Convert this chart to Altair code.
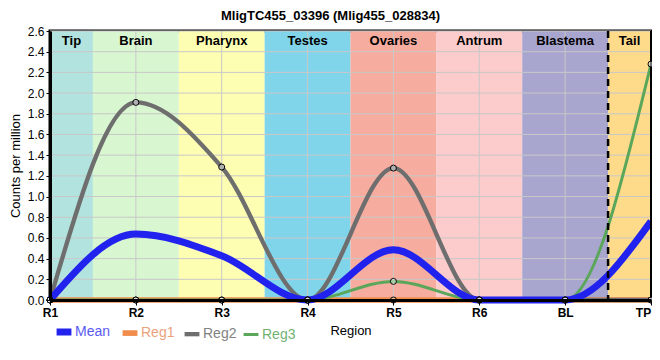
import json
import altair as alt
import pandas as pd

# ---------------- data ----------------
regions = ["R1", "R2", "R3", "R4", "R5", "R6", "BL", "TP"]
series_names = ["Mean", "Reg1", "Reg2", "Reg3"]
mean_vals = [0.0, 0.637, 0.428, 0.0, 0.485, 0.0, 0.0, 0.76]
reg1_vals = [0.0, 0.0, 0.0, 0.0, 0.0, 0.0, 0.0, 0.0]
reg2_vals = [0.0, 1.91, 1.285, 0.0, 1.275, 0.0, 0.0, 0.0]
reg3_vals = [0.0, 0.0, 0.0, 0.0, 0.18, 0.0, 0.0, 2.28]

series_colors = ["#2222ee", "#f08c4c", "#6e6e6e", "#5aa65a"]
label_colors = ["#5a5af2", "#eba27c", "#828282", "#72b272"]
stroke_widths = [7, 3, 3, 3]

band_names = ["Tip", "Brain", "Pharynx", "Testes", "Ovaries", "Antrum", "Blastema", "Tail"]
band_start = [0, 0.5, 1.5, 2.5, 3.5, 4.5, 5.5, 6.5]
band_end = [0.5, 1.5, 2.5, 3.5, 4.5, 5.5, 6.5, 7]
band_colors = ["#b3e3de", "#d8f6d0", "#fefeb3", "#80d5ea", "#f6ac9e", "#fccbcb", "#a8a6cf", "#fddb8b"]
divider_at = [6.5]

y_ticks = [0.0, 0.2, 0.4, 0.6, 0.8, 1.0, 1.2, 1.4, 1.6, 1.8, 2.0, 2.2, 2.4, 2.6]

# ---------------- tables ----------------
rows = []
for name, vals in [("Reg1", reg1_vals), ("Reg2", reg2_vals), ("Reg3", reg3_vals), ("Mean", mean_vals)]:
    for i, v in enumerate(vals):
        rows.append({"idx": i, "region": regions[i], "series": name, "value": v})
lines_df = pd.DataFrame(rows)
bands_df = pd.DataFrame({"band": band_names, "start": band_start, "end": band_end})
gx_df = pd.DataFrame({"idx": list(range(len(regions)))})
gy_df = pd.DataFrame({"v": y_ticks})
div_df = pd.DataFrame({"x": divider_at})

FONT = "Liberation Sans"
W, H = 601, 269
LAST = len(regions) - 1
edge_df = pd.DataFrame({"x": [LAST]})

label_expr = json.dumps(regions) + "[datum.value]"


def lookup_expr(keys, vals, default):
    expr = default
    for k, v in zip(reversed(keys), reversed(vals)):
        vv = f"'{v}'" if isinstance(v, str) else str(v)
        expr = f"datum.value == '{k}' ? {vv} : ({expr})"
    return expr


color_expr = lookup_expr(series_names, label_colors, "'black'")
sw_expr = lookup_expr(series_names, stroke_widths, "3")

x_scale = alt.Scale(domain=[0, LAST], nice=False, zero=False)
y_scale = alt.Scale(domain=[y_ticks[0], y_ticks[-1]], nice=False)

x_axis = alt.Axis(
    values=list(range(len(regions))), labelExpr=label_expr, title="Region",
    grid=False, domainColor="black", domainWidth=3, tickColor="black", tickSize=5,
    labelFont=FONT, labelFontSize=12, labelFontWeight="bold", labelColor="black",
    labelPadding=2, labelOverlap=False, labelFlush=False,
    labelOffset={"condition": {"test": f"datum.value == {LAST}", "value": -8}, "value": 0},
    titleFont=FONT, titleFontSize=13,
    titleFontWeight="normal", titleColor="black", titlePadding=6, zindex=1,
)
y_axis = alt.Axis(
    values=y_ticks, format=".1f", title="Counts per million",
    grid=False, domainColor="black", domainWidth=3, tickColor="black", tickSize=4,
    labelFont=FONT, labelFontSize=12, labelColor="black", labelPadding=2,
    labelOverlap=False, labelFlush=False, titleFont=FONT, titleFontSize=13,
    titleFontWeight="normal", titleColor="black", titlePadding=5, zindex=1,
)


def X(field):
    return alt.X(field, scale=x_scale, axis=x_axis)


def Y(field):
    return alt.Y(field, scale=y_scale, axis=y_axis)


bands = alt.Chart(bands_df).mark_rect().encode(
    x=X("start:Q"),
    x2="end:Q",
    y=alt.YDatum(y_ticks[0], type="quantitative", scale=y_scale, axis=y_axis),
    y2=alt.Y2Datum(y_ticks[-1]),
    fill=alt.Fill("band:N", scale=alt.Scale(domain=band_names, range=band_colors), legend=None),
)

band_text = alt.Chart(bands_df).transform_calculate(
    mid="(datum.start + datum.end) / 2"
).mark_text(font=FONT, fontSize=13, fontWeight="bold", color="black", baseline="alphabetic").encode(
    x=X("mid:Q"),
    y=alt.value(14),
    text="band:N",
)

grid_x = alt.Chart(gx_df).mark_rule(color="#c8c8c8", strokeWidth=1).encode(x=X("idx:Q"))
grid_y = alt.Chart(gy_df).mark_rule(color="#c8c8c8", strokeWidth=1).encode(y=Y("v:Q"))

lines = alt.Chart(lines_df).mark_line(interpolate="monotone").encode(
    x=X("idx:Q"),
    y=Y("value:Q"),
    color=alt.Color(
        "series:N",
        scale=alt.Scale(domain=series_names, range=series_colors),
        legend=alt.Legend(
            orient="none", legendX=3, legendY=290, direction="horizontal", columns=4,
            title=None, symbolType="stroke", symbolSize=220, labelFont=FONT,
            labelFontSize=14, labelColor=alt.ExprRef(color_expr),
            symbolStrokeWidth=alt.ExprRef(sw_expr), columnPadding=0,
            labelOffset=0, padding=0,
        ),
    ),
    strokeWidth=alt.StrokeWidth(
        "series:N", scale=alt.Scale(domain=series_names, range=stroke_widths), legend=None
    ),
)

points = alt.Chart(lines_df).transform_filter("datum.series != 'Mean'").mark_point(
    shape="circle", filled=False, size=36, stroke="black", strokeWidth=1,
    fill="white", fillOpacity=0.45, opacity=1,
).encode(
    x=X("idx:Q"),
    y=Y("value:Q"),
)

divider = alt.Chart(div_df).mark_rule(color="black", strokeWidth=2.5, strokeDash=[7, 5]).encode(
    x=X("x:Q")
)

edge = alt.Chart(edge_df).mark_rule(color="black", strokeWidth=2).encode(x=X("x:Q"))

chart = alt.layer(bands, grid_x, grid_y, band_text, lines, edge, points, divider).properties(
    width=W, height=H,
    title=alt.TitleParams(
        "MligTC455_03396 (Mlig455_028834)", font=FONT, fontSize=13, fontWeight="bold",
        color="black", anchor="middle", dx=-20, dy=-3, offset=-1,
    ),
    autosize=alt.AutoSizeParams(type="none"),
    padding={"left": 42, "top": 23, "right": 1, "bottom": 48},
).configure_view(stroke="black", strokeWidth=3)

chart.save("out.html", embed_options={"renderer": "svg", "actions": False})
